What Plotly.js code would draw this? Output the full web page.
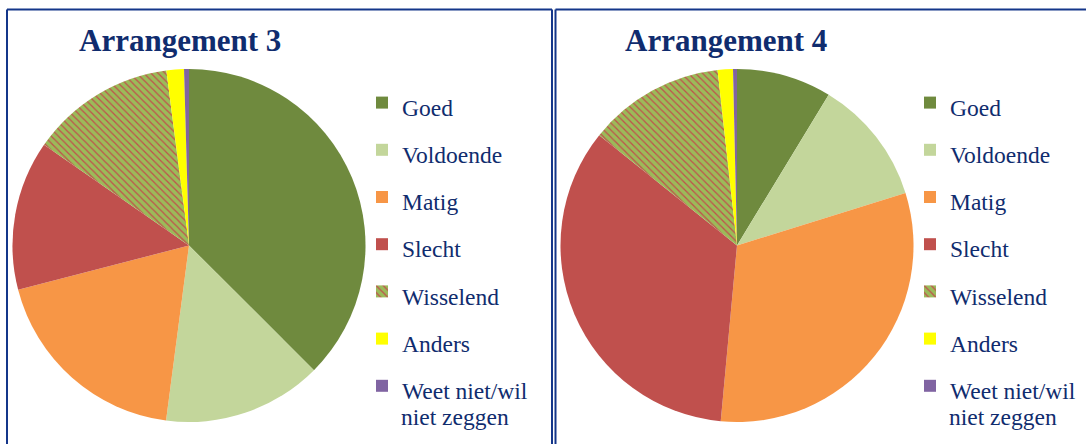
<!DOCTYPE html>
<html>
<head>
<meta charset="utf-8">
<script src="https://cdn.plot.ly/plotly-3.0.1.min.js"></script>
<style>
  html, body { margin: 0; padding: 0; background: #ffffff; }
  #chart { width: 1086px; height: 444px; }
</style>
</head>
<body>
<div id="chart"></div>
<script>
// ---- Data ----
const categories = ["Goed", "Voldoende", "Matig", "Slecht", "Wisselend", "Anders", "Weet niet/wil"];
const legendContinuation = "niet zeggen";
const titles = ["Arrangement 3", "Arrangement 4"];
const arrangement3 = [37.5, 14.6, 18.9, 13.7, 13.3, 1.6, 0.45];
const arrangement4 = [8.7, 11.5, 31.3, 34.3, 12.5, 1.4, 0.36];

// ---- Styling ----
const sliceColors = ["#6F8A3E", "#C3D69B", "#F79646", "#C0504D", "#9BBB59", "#FFFF00", "#8064A2"];
const patternShapes = ["", "", "", "", "\\", "", ""];
const navy = "#102C6E";
const borderColor = "#14368A";
const serif = "Liberation Serif, Times New Roman, serif";
const W = 1086, H = 444;
const px = v => v / W;
const py = v => (H - v) / H;

function pieTrace(values, domX, domY, legendId, tag) {
  return {
    type: "pie",
    // distinct label markup per trace so each legend keeps its own entries
    labels: categories.map(c => '<span style="font-size:23.5px' + tag + '">' + c + '</span>'),
    values: values,
    sort: false,
    direction: "clockwise",
    rotation: 0,
    textinfo: "none",
    hoverinfo: "label+percent",
    domain: { x: domX, y: domY },
    legend: legendId,
    marker: {
      colors: sliceColors,
      line: { width: 0 },
      pattern: {
        shape: patternShapes,
        fgcolor: "#C0504D",
        bgcolor: sliceColors,
        size: 5,
        solidity: 0.25,
        fillmode: "replace"
      }
    }
  };
}

const r = 176.5;
const cy = 245.5;
const traces = [
  pieTrace(arrangement3, [px(189 - r), px(189 + r)], [py(cy + r), py(cy - r)], "legend", ""),
  pieTrace(arrangement4, [px(737 - r), px(737 + r)], [py(cy + r), py(cy - r)], "legend2", ";")
];

const legendBase = {
  font: { family: serif, size: 34, color: navy },
  bgcolor: "rgba(0,0,0,0)",
  borderwidth: 0,
  xanchor: "left",
  yanchor: "top",
  traceorder: "normal"
};

const layout = {
  width: W,
  height: H,
  margin: { l: 0, r: 0, t: 0, b: 0 },
  paper_bgcolor: "#ffffff",
  showlegend: true,
  legend: Object.assign({}, legendBase, { x: px(362), y: py(74) }),
  legend2: Object.assign({}, legendBase, { x: px(910), y: py(74) }),
  annotations: [
    { text: "<b>" + titles[0] + "</b>", xref: "paper", yref: "paper", x: px(180), y: py(41),
      xanchor: "center", yanchor: "middle", showarrow: false,
      font: { family: serif, size: 31, color: navy } },
    { text: "<b>" + titles[1] + "</b>", xref: "paper", yref: "paper", x: px(725.5), y: py(41),
      xanchor: "center", yanchor: "middle", showarrow: false,
      font: { family: serif, size: 31, color: navy } },
    { text: legendContinuation, xref: "paper", yref: "paper", x: px(399), y: py(417),
      xanchor: "left", yanchor: "middle", showarrow: false,
      font: { family: serif, size: 23.5, color: navy } },
    { text: legendContinuation, xref: "paper", yref: "paper", x: px(947), y: py(417),
      xanchor: "left", yanchor: "middle", showarrow: false,
      font: { family: serif, size: 23.5, color: navy } }
  ],
  shapes: [
    // panel 1 frame
    { type: "line", xref: "paper", yref: "paper", x0: px(7), x1: px(552), y0: py(9.5), y1: py(9.5), line: { color: borderColor, width: 2 } },
    { type: "line", xref: "paper", yref: "paper", x0: px(7), x1: px(7), y0: py(9.5), y1: py(460), line: { color: borderColor, width: 2 } },
    { type: "line", xref: "paper", yref: "paper", x0: px(552), x1: px(552), y0: py(9.5), y1: py(460), line: { color: borderColor, width: 2 } },
    // panel 2 frame
    { type: "line", xref: "paper", yref: "paper", x0: px(555.5), x1: px(1100), y0: py(9.5), y1: py(9.5), line: { color: borderColor, width: 2 } },
    { type: "line", xref: "paper", yref: "paper", x0: px(555.5), x1: px(555.5), y0: py(9.5), y1: py(460), line: { color: borderColor, width: 2 } }
  ]
};

Plotly.newPlot("chart", traces, layout, { displayModeBar: false, staticPlot: true });
</script>
</body>
</html>
